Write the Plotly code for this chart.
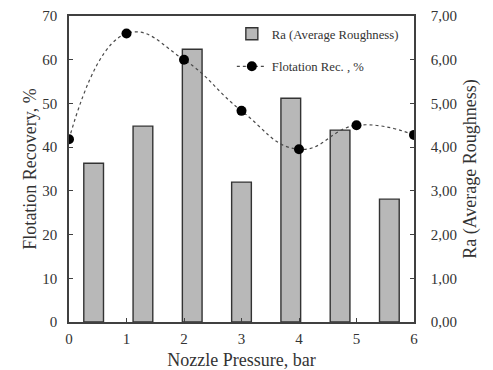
import plotly.graph_objects as go

pressure = [0, 1, 2, 3, 4, 5, 6]
recovery = [41.8, 66.0, 60.0, 48.3, 39.5, 45.0, 42.8]
bar_cats = ["a", "b", "c", "d", "e", "f", "g"]
ra = [3.63, 4.48, 6.24, 3.20, 5.12, 4.39, 2.81]

FONT = "Liberation Serif"
AX = "#404040"

fig = go.Figure()
fig.add_trace(go.Bar(
    x=bar_cats, y=ra, name="Ra (Average Roughness)",
    xaxis="x", yaxis="y", width=0.4, legendgroup="a",
    marker=dict(color="#b8b8b8", line=dict(color="#333333", width=1.4)),
))
fig.add_trace(go.Scatter(
    x=pressure, y=recovery, name="Flotation Rec. , %",
    xaxis="x2", yaxis="y2", mode="lines+markers", legendgroup="b",
    line=dict(color="#4a4a4a", width=1.2, dash="3px,3px", shape="spline", smoothing=1.3),
    marker=dict(color="black", size=10),
))

common = dict(showgrid=False, zeroline=False, showline=True, linecolor=AX, linewidth=1.5,
              ticks="inside", ticklen=4, tickcolor=AX, automargin=False,
              tickfont=dict(size=15))

# page body has an 8px default margin: compensate so the plot area sits where the reference has it
fig.update_layout(
    width=485, height=362,
    margin=dict(l=61, r=79, t=8, b=48),
    paper_bgcolor="white", plot_bgcolor="white",
    separators=", ",
    font=dict(family=FONT, size=15, color="#333333"),
    showlegend=True,
    legend=dict(x=0.472, y=0.99, xanchor="left", yanchor="top",
                bgcolor="rgba(0,0,0,0)", font=dict(size=12.7, family=FONT),
                tracegroupgap=13),
    xaxis=dict(type="category", range=[-0.5, 6.5], visible=False),
    yaxis=dict(side="right", range=[0, 7], dtick=1, tickformat=".2f", ticklabelstandoff=12,
               title=dict(text="Ra (Average Roughness)", standoff=7), **common),
    xaxis2=dict(overlaying="x", side="bottom", range=[0, 6], dtick=1, mirror=True,
                ticklabelstandoff=2,
                title=dict(text="Nozzle Pressure, bar", standoff=14), **common),
    yaxis2=dict(overlaying="y", side="left", range=[0, 70], dtick=10, ticklabelstandoff=7,
                title=dict(text="Flotation Recovery, %", standoff=1), **common),
)

fig.write_html("out.html")
